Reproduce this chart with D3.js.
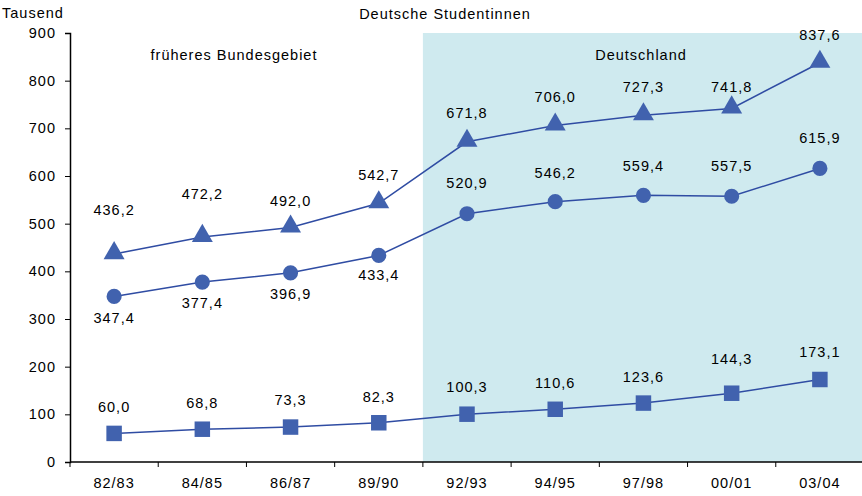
<!DOCTYPE html>
<html>
<head>
<meta charset="utf-8">
<script src="https://cdn.jsdelivr.net/npm/d3@7"></script>
<style>
  body { margin: 0; background: #fff; }
  text { font-family: "Liberation Sans", Arial, sans-serif; fill: #000; letter-spacing: 1px; }
</style>
</head>
<body>
<svg id="chart"></svg>
<script>
var categories = ["82/83", "84/85", "86/87", "89/90", "92/93", "94/95", "97/98", "00/01", "03/04"];
var triangleValues = [436.2, 472.2, 492.0, 542.7, 671.8, 706.0, 727.3, 741.8, 837.6];
var circleValues = [347.4, 377.4, 396.9, 433.4, 520.9, 546.2, 559.4, 557.5, 615.9];
var squareValues = [60.0, 68.8, 73.3, 82.3, 100.3, 110.6, 123.6, 144.3, 173.1];
var yTicks = [0, 100, 200, 300, 400, 500, 600, 700, 800, 900];

var width = 862, height = 496;
var margin = {top: 33, right: -2, bottom: 34, left: 70};
var fontSize = "14.5px";

var svg = d3.select("#chart")
    .attr("width", width)
    .attr("height", height);

var x = d3.scaleBand()
    .domain(categories)
    .range([margin.left, width - margin.right]);

var y = d3.scaleLinear()
    .domain([0, 900])
    .range([height - margin.bottom, margin.top]);

var fmt = function(v) { return d3.format(".1f")(v).replace(".", ","); };
var markColor = "#4162ae";
var lineColor = "#2f4ca3";

// shaded area for Deutschland
svg.append("rect")
    .attr("x", x("92/93"))
    .attr("y", y(900))
    .attr("width", width - x("92/93"))
    .attr("height", y(0) - y(900))
    .attr("fill", "#cfeaef");

// y axis
var yAxis = svg.append("g")
    .attr("transform", "translate(" + margin.left + ",0)")
    .call(d3.axisLeft(y).tickValues(yTicks).tickSize(5).tickPadding(9).tickFormat(d3.format("d")));
yAxis.selectAll("text").style("font-size", fontSize);
yAxis.select(".domain").attr("stroke-width", 1.5);

// x axis with ticks between categories
var xAxis = svg.append("g")
    .attr("transform", "translate(0," + y(0) + ")");
xAxis.append("line")
    .attr("x1", margin.left).attr("x2", width)
    .attr("stroke", "#000").attr("stroke-width", 1.5);
xAxis.selectAll(".tk")
    .data(categories)
    .enter().append("line")
    .attr("x1", function(d) { return x(d); })
    .attr("x2", function(d) { return x(d); })
    .attr("y1", 0).attr("y2", 5)
    .attr("stroke", "#000");
xAxis.selectAll(".lbl")
    .data(categories)
    .enter().append("text")
    .attr("x", function(d) { return x(d) + x.bandwidth() / 2; })
    .attr("y", 26)
    .attr("text-anchor", "middle")
    .style("font-size", fontSize)
    .text(function(d) { return d; });

var cx = function(d, i) { return x(categories[i]) + x.bandwidth() / 2; };
var line = d3.line()
    .x(function(d, i) { return cx(d, i); })
    .y(function(d) { return y(d); });

// label offsets (pixels from marker centre)
var triangleShift = [-44, -43, -27, -28, -29, -29, -28, -21, -28];
var circleShift = [22, 21, 21, 20, -31, -29, -29, -30, -30];
var squareShift = [-26, -26, -27, -26, -27, -26, -26, -34, -28];

var series = [
  {values: triangleValues, symbol: d3.symbolTriangle, size: 190, shift: triangleShift},
  {values: circleValues, symbol: d3.symbolCircle, size: 180, shift: circleShift},
  {values: squareValues, symbol: d3.symbolSquare, size: 240, shift: squareShift}
];

series.forEach(function(s) {
  svg.append("path")
      .datum(s.values)
      .attr("d", line)
      .attr("fill", "none")
      .attr("stroke", lineColor)
      .attr("stroke-width", 1.5);

  svg.selectAll(null)
      .data(s.values)
      .enter().append("path")
      .attr("d", d3.symbol().type(s.symbol).size(s.size))
      .attr("transform", function(d, i) {
        var dy = s.symbol === d3.symbolTriangle ? -1 : 0;
        return "translate(" + cx(d, i) + "," + (y(d) + dy) + ")";
      })
      .attr("fill", markColor);

  svg.selectAll(null)
      .data(s.values)
      .enter().append("text")
      .attr("x", function(d, i) { return cx(d, i); })
      .attr("y", function(d, i) { return y(d) + s.shift[i]; })
      .attr("dy", "0.35em")
      .attr("text-anchor", "middle")
      .style("font-size", fontSize)
      .text(fmt);
});

// titles
svg.append("text")
    .attr("x", 2).attr("y", 18)
    .style("font-size", fontSize)
    .text("Tausend");
svg.append("text")
    .attr("x", 445).attr("y", 19)
    .attr("text-anchor", "middle")
    .style("font-size", fontSize)
    .text("Deutsche Studentinnen");
svg.append("text")
    .attr("x", 234).attr("y", 60)
    .attr("text-anchor", "middle")
    .style("font-size", fontSize)
    .text("früheres Bundesgebiet");
svg.append("text")
    .attr("x", 641).attr("y", 60)
    .attr("text-anchor", "middle")
    .style("font-size", fontSize)
    .text("Deutschland");
</script>
</body>
</html>
